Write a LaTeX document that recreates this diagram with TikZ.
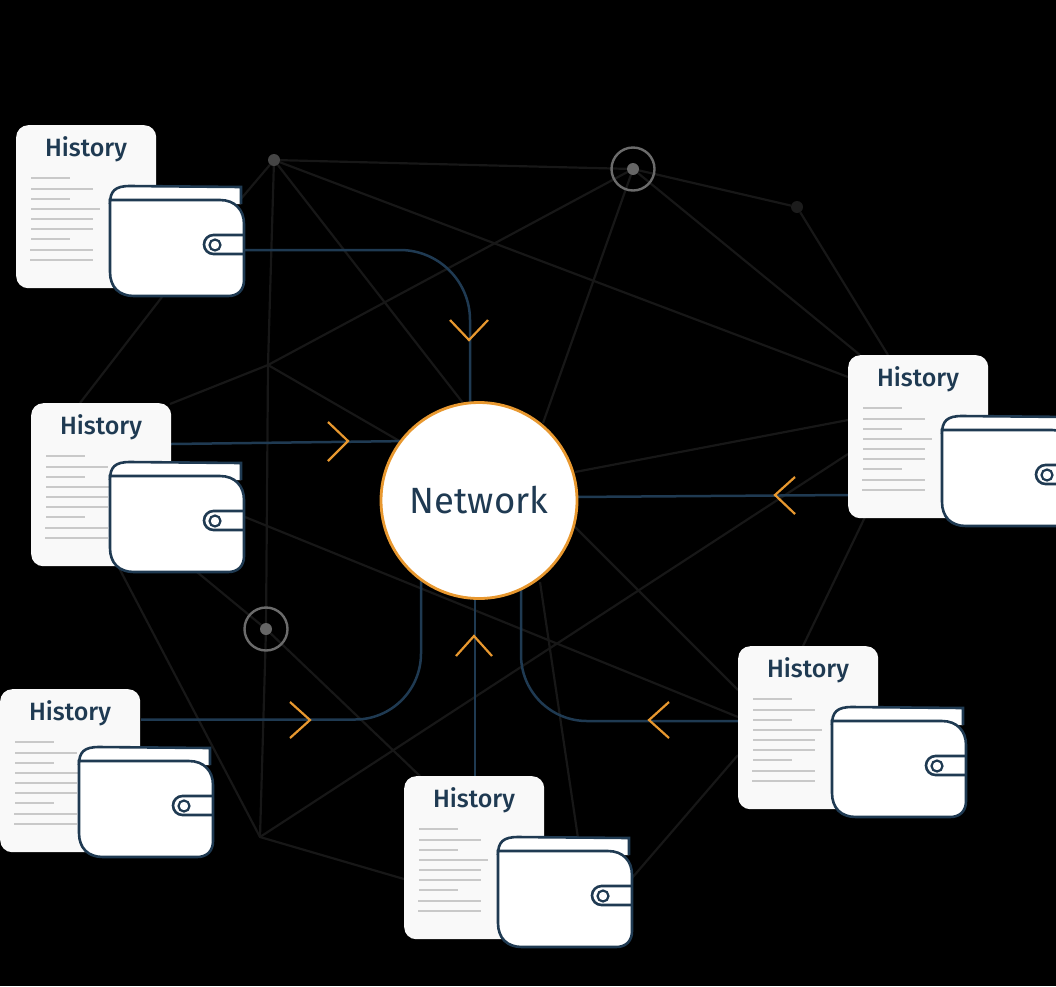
\documentclass[tikz,border=0pt]{standalone}
\usepackage{fontspec}
\setmainfont{Fira Sans}
\newfontfamily\titlefont{Fira Sans Medium}
\usetikzlibrary{backgrounds}

\definecolor{navy}{HTML}{1F3A52}
\definecolor{amber}{HTML}{E8982F}

\tikzset{
  wallet/.pic={
    \draw[wline, fill=white] (0,18) .. controls (0,5) and (5,0) .. (20,0) -- (131,1) -- (131,18);
    \draw[wline, fill=white] (0,14) -- (110,14) .. controls (125,14) and (134,24) .. (134,38) -- (134,94)
         .. controls (134,104) and (128,110) .. (118,110) -- (24,110) .. controls (9,110) and (0,101) .. (0,86) -- cycle;
    \draw[wline] (134,49) [rounded corners=9.5pt] -- (94,49) -- (94,68) -- (134,68);
    \node[circle, draw=navy, line width=2.2pt, fill=white, minimum size=11pt, inner sep=0] (-ring) at (105,59) {};
    \coordinate (-out) at (134,64);
  }
}

% card = page + heading + text lines
\newcommand{\historydoc}[3]{
  \node[docpage] (#1) at (#2,#3) {};
  \begin{scope}[shift={(#2,#3)}]
    \node[doctitle] (#1t) at (70,24) {History};
    \foreach \dy/\xa/\xb in {53/15/54, 64/15/77, 74/15/54, 84/15/84, 94/15/77, 104/15/77, 114/15/54, 125/14/77, 135/14/77}
      \draw[docline] (\xa,\dy) -- (\xb,\dy);
  \end{scope}
}

\begin{document}
\begin{tikzpicture}[
  x=1pt, y=-1pt,
  docpage/.style={rectangle, anchor=north west, fill=white!97.5!black, rounded corners=12pt,
                  minimum width=140pt, minimum height=163pt, inner sep=0},
  doctitle/.style={font=\fontsize{25}{28}\selectfont\titlefont, text=navy, inner sep=0},
  docline/.style={draw=black!21, line width=2.4pt},
  wline/.style={draw=navy, line width=2.6pt},
  link/.style={draw=navy, line width=2.5pt},
  chev/.style={draw=amber, line width=2.2pt},
  mesh/.style={draw=black!91, line width=2.2pt},
  hub/.style={circle, inner sep=0, minimum size=12pt},
  hubring/.style={circle, draw=black!58, line width=2.4pt, minimum size=43pt, inner sep=0}
]
\clip (0,0) rectangle (1056,986);

%% ── nodes ───────────────────────────────────────────────────────────────
\node[circle, fill=white, draw=amber, line width=2.8pt, minimum size=196pt, inner sep=0,
      font=\fontsize{36.5}{40}\selectfont, text=navy] (net) at (479,500.5) {Network};

\historydoc{h1}{16}{125}
\historydoc{h2}{31}{403}
\historydoc{h3}{0}{689}
\historydoc{h4}{404}{776}
\historydoc{h5}{738}{646}
\historydoc{h6}{848}{355}

\pic (w1) at (110,186) {wallet};
\pic (w2) at (110,462) {wallet};
\pic (w3) at (79,747)  {wallet};
\pic (w4) at (498,837) {wallet};
\pic (w5) at (832,707) {wallet};
\pic (w6) at (942,416) {wallet};

%% hubs
\node[hub, fill=black!73] (hubA) at (274,160) {};
\node[hub, fill=black!60] (hubB) at (633,169) {};
\node[hubring] (ringB) at (633,169) {};
\node[hub, fill=black!89] (hubC) at (797,207) {};
\node[hub, fill=black!60] (hubD) at (266,629) {};
\node[hubring] (ringD) at (266,629) {};
\coordinate (hubE) at (268,365);
\coordinate (hubF) at (260,837);

%% free ends of the mesh
\coordinate (m1) at (240,200);
\coordinate (m2) at (470,412);
\coordinate (m3) at (848,377);
\coordinate (m4) at (170,404);
\coordinate (m5) at (415,450);
\coordinate (m6) at (543,423);
\coordinate (m7) at (860,355);
\coordinate (m8) at (888,355);
\coordinate (m9) at (162,297);
\coordinate (m10) at (80,403);
\coordinate (m11) at (575,472);
\coordinate (m12) at (848,420);
\coordinate (m13) at (570,522);
\coordinate (m14) at (738,690);
\coordinate (m15) at (848,454);
\coordinate (m16) at (865,517);
\coordinate (m17) at (803,646);
\coordinate (m18) at (245,517);
\coordinate (m19) at (738,717);
\coordinate (m20) at (540,582);
\coordinate (m21) at (578,838);
\coordinate (m22) at (197,572);
\coordinate (m23) at (420,776);
\coordinate (m24) at (118,566);
\coordinate (m25) at (404,879);
\coordinate (m26) at (632,878);
\coordinate (m27) at (738,755);

%% link ends
\coordinate (o2) at (171,444);
\coordinate (i2) at (410,441);
\coordinate (o3) at (141,719.5);
\coordinate (o4) at (475,776);
\coordinate (i4) at (475,590);
\coordinate (o5) at (738,721);
\coordinate (o6) at (848,495);
\coordinate (i6) at (570,497);

%% ── chevrons ────────────────────────────────────────────────────────────
\draw[chev] (450,320) -- (469,340) -- (488,320);
\draw[chev] (328,422) -- (348,441) -- (328,461);
\draw[chev] (290,702) -- (310,720) -- (290,738);
\draw[chev] (456,656) -- (474,636) -- (492,656);
\draw[chev] (669,702) -- (649,720) -- (669,738);
\draw[chev] (795,477) -- (775,495) -- (795,514);

%% ── edges ───────────────────────────────────────────────────────────────
\begin{scope}[on background layer]
  \fill[black] (0,0) rectangle (1056,986);

  % mesh
  \draw[mesh] (hubA) -- (hubB);
  \draw[mesh] (hubB) -- (hubC);
  \draw[mesh] (hubA) -- (m1);
  \draw[mesh] (hubA) -- (m2);
  \draw[mesh] (hubA) -- (m3);
  \draw[mesh] (hubA) -- (hubE) -- (hubD) -- (hubF);
  \draw[mesh] (hubB) -- (hubE) -- (m4);
  \draw[mesh] (hubE) -- (m5);
  \draw[mesh] (hubB) -- (m6);
  \draw[mesh] (hubB) -- (m7);
  \draw[mesh] (hubC) -- (m8);
  \draw[mesh] (m9) -- (m10);
  \draw[mesh] (m11) -- (m12);
  \draw[mesh] (m13) -- (m14);
  \draw[mesh] (m15) -- (hubF);
  \draw[mesh] (m16) -- (m17);
  \draw[mesh] (m18) -- (m19);
  \draw[mesh] (m20) -- (m21);
  \draw[mesh] (m22) -- (hubD) -- (m23);
  \draw[mesh] (m24) -- (hubF) -- (m25);
  \draw[mesh] (m26) -- (m27);

  % links into the network
  \draw[link, rounded corners=70pt] (w1-out) -- (470,250) -- (470,420);
  \draw[link] (o2) -- (i2);
  \draw[link, rounded corners=66pt] (o3) -- (421,719.5) -- (421,570);
  \draw[link] (o4) -- (i4);
  \draw[link, rounded corners=66pt] (o5) -- (521,721) -- (521,570);
  \draw[link] (o6) -- (i6);
\end{scope}

\end{tikzpicture}
\end{document}
